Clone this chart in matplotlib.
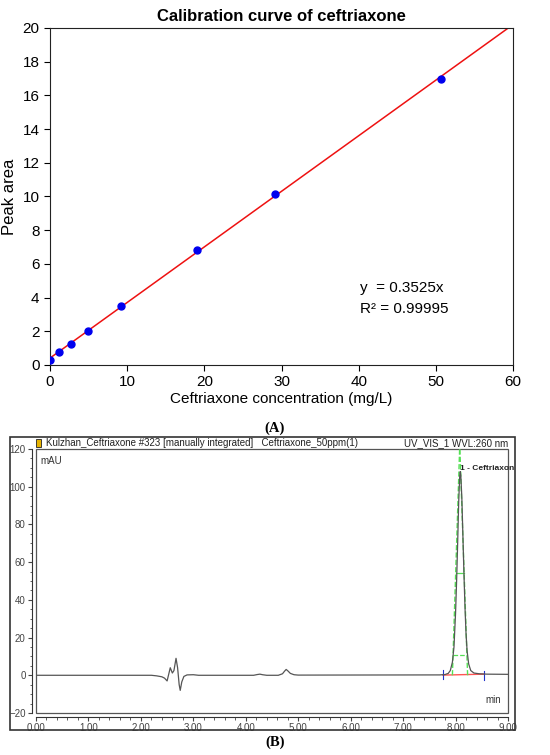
import matplotlib.pyplot as plt
import matplotlib.patches as patches
import numpy as np

# calibration data (panel A)
conc = [0, 1.2, 2.7, 4.9, 9.2, 19.1, 29.2, 50.6]
area = [0.30, 0.79, 1.27, 1.99, 3.52, 6.85, 10.13, 16.99]
x_ticks = [0, 10, 20, 30, 40, 50, 60]
y_ticks = [0, 2, 4, 6, 8, 10, 12, 14, 16, 18, 20]

# chromatogram trace (panel B)
t_min = [0.00, 2.20, 2.30, 2.40, 2.45, 2.50, 2.53, 2.56, 2.60, 2.63, 2.67, 2.70,
         2.73, 2.75, 2.78, 2.82, 2.88, 3.00, 3.10, 4.15, 4.22, 4.27, 4.32, 4.40,
         4.62, 4.70, 4.74, 4.77, 4.80, 4.85, 4.92, 5.00, 7.70, 7.80, 7.86, 7.90,
         7.94, 7.97, 8.00, 8.02, 8.04, 8.06, 8.08, 8.09, 8.10, 8.12, 8.14, 8.16,
         8.18, 8.20, 8.22, 8.25, 8.29, 8.35, 8.45, 8.60, 9.00]
mau = [0.0, 0.0, -0.3, -0.8, -1.5, -3.0, 0.5, 4.0, 1.2, 2.5, 9.0, 4.0,
       -5.0, -8.0, -3.5, -0.6, 0.2, 0.3, 0.0, 0.0, 0.4, 0.6, 0.3, 0.0,
       0.0, 0.8, 2.2, 3.1, 2.4, 1.0, 0.3, 0.1, 0.2, 0.4, 1.0, 2.5,
       7.0, 15.0, 33.0, 50.0, 70.0, 92.0, 106.0, 108.0, 106.0, 94.0, 74.0, 54.0,
       36.0, 22.0, 13.0, 6.0, 2.5, 1.2, 0.8, 0.6, 0.5]
chrom_xticks = [0, 1, 2, 3, 4, 5, 6, 7, 8, 9]
chrom_yticks = [-20, 0, 20, 40, 60, 80, 100, 120]

plt.rcParams['font.family'] = ['Liberation Sans', 'DejaVu Sans']

fig = plt.figure(figsize=(5.5, 7.55), dpi=100)

# ---- panel A ----
ax = fig.add_axes([0.0909, 0.5166, 0.842, 0.4464])
ax.plot(conc, area, 'o', color='#0000ee', markersize=5, zorder=3)
k, b = np.polyfit(conc, area, 1)
xx = np.array([0, 60])
ax.plot(xx, k * xx + b, color='#ee1111', linewidth=1.1, zorder=2)
ax.set_xlim(0, 60)
ax.set_ylim(0, 20)
ax.set_xticks(x_ticks)
ax.set_yticks(y_ticks)
ax.tick_params(direction='out', length=4, labelsize=11)
for s in ax.spines.values():
    s.set_color('#222222')
ax.set_xlabel('Ceftriaxone concentration (mg/L)', fontsize=11, labelpad=2)
ax.set_ylabel('Peak area', fontsize=12, labelpad=4)
ax.set_title('Calibration curve of ceftriaxone', fontsize=12, fontweight='bold', pad=5)
ax.text(40.1, 4.35, 'y  = 0.3525x', fontsize=11)
ax.text(40.1, 3.1, 'R² = 0.99995', fontsize=11)

fig.text(0.5, 1 - 428 / 755, '(A)', ha='center', va='center',
         family='Liberation Serif', fontweight='bold', fontsize=10.5)

# ---- panel B ----
fig.patches.append(patches.Rectangle((10 / 550, 1 - 730 / 755), 505 / 550, 293 / 755,
                                     transform=fig.transFigure, fill=False,
                                     edgecolor='#333333', linewidth=1.2))

ax2 = fig.add_axes([36 / 550, 1 - 713 / 755, 472 / 550, 264 / 755])
ax2.plot(t_min, mau, color='#555555', linewidth=0.9, zorder=5)
# integration baseline and marks
ax2.plot([7.76, 8.55], [0.1, 0.6], color='#ff5555', linewidth=1.0, zorder=2)
ax2.plot([7.76, 7.76], [-2, 3], color='#2233cc', linewidth=0.8)
ax2.plot([8.55, 8.55], [-2.5, 2.5], color='#2233cc', linewidth=0.8)
# peak width construction
green = '#55e055'
ax2.plot([7.94, 8.08], [0, 122], color=green, linestyle='--', linewidth=1.0, zorder=4)
ax2.plot([8.23, 8.08], [0, 122], color=green, linestyle='--', linewidth=1.0, zorder=4)
ax2.plot([8.00, 8.165], [54, 54], color=green, linewidth=0.9, zorder=4)
ax2.plot([7.95, 8.215], [11, 11], color=green, linestyle='--', linewidth=0.9, zorder=4)
ax2.set_xlim(0, 9)
ax2.set_ylim(-20, 120)
ax2.set_xticks(chrom_xticks)
ax2.set_xticklabels(['%.2f' % v for v in chrom_xticks])
ax2.set_yticks(chrom_yticks)
ax2.set_xticks(np.arange(0, 9.01, 0.2), minor=True)
ax2.set_yticks(np.arange(-20, 120.1, 5), minor=True)
ax2.tick_params(which='major', direction='out', length=3, labelsize=7,
                pad=1.5, colors='#444444')
ax2.tick_params(which='minor', direction='out', length=1.8, colors='#444444')
for s in ['left', 'bottom']:
    ax2.spines[s].set_position(('outward', 3))
    ax2.spines[s].set_color('#333333')
for s in ['top', 'right']:
    ax2.spines[s].set_visible(False)
ax2.add_patch(patches.Rectangle((0, 0), 1, 1, transform=ax2.transAxes, fill=False,
                                edgecolor='#555555', linewidth=0.9, clip_on=False))

ax2.text(0.01, 0.975, 'mAU', transform=ax2.transAxes, fontsize=7,
         ha='left', va='top', color='#333333')
ax2.text(0.985, 0.03, 'min', transform=ax2.transAxes, fontsize=7,
         ha='right', va='bottom', color='#333333')
ax2.text(8.08, 108, '1 - Ceftriaxon', fontsize=6, fontweight='bold',
         ha='left', va='bottom', color='#222222')

# header line
fig.patches.append(patches.Rectangle((36 / 550, 1 - 447 / 755), 5 / 550, 8 / 755,
                                     transform=fig.transFigure, facecolor='#e8b400',
                                     edgecolor='#222222', linewidth=0.6))
fig.text(46 / 550, 1 - 443 / 755,
         'Kulzhan_Ceftriaxone #323 [manually integrated]   Ceftriaxone_50ppm(1)',
         fontsize=7, ha='left', va='center', color='#222222')
fig.text(508 / 550, 1 - 443 / 755, 'UV_VIS_1 WVL:260 nm', fontsize=7,
         ha='right', va='center', color='#222222')

fig.text(0.5, 1 - 742 / 755, '(B)', ha='center', va='center',
         family='Liberation Serif', fontweight='bold', fontsize=10.5)

plt.savefig('out.png', dpi=100)
